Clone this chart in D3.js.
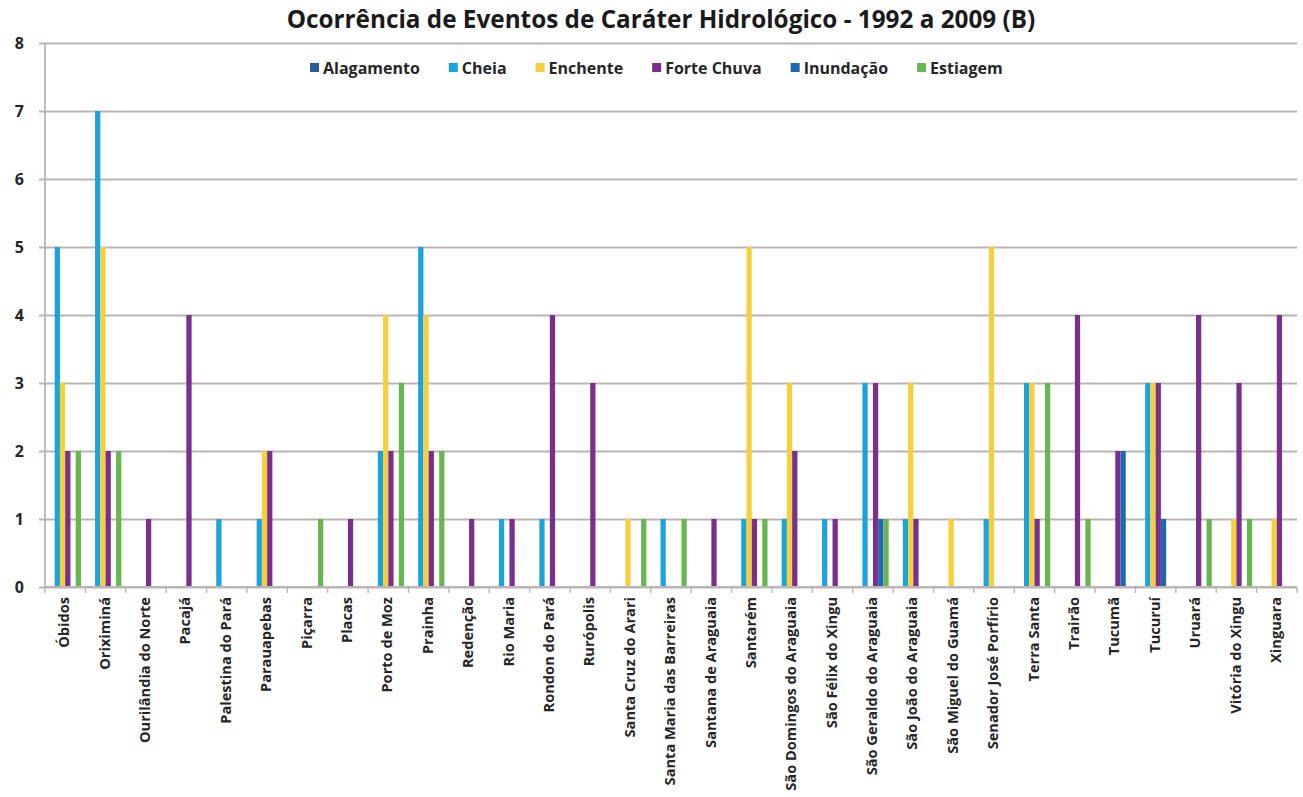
<!DOCTYPE html>
<html>
<head>
<meta charset="utf-8">
<script src="https://cdn.jsdelivr.net/npm/d3@7"></script>
<style>
  html, body { margin: 0; padding: 0; background: #ffffff; }
  svg { display: block; }
  svg text { font-family: "Open Sans", "DejaVu Sans", sans-serif; font-weight: 700; }
</style>
</head>
<body>
<svg id="chart" width="1303" height="797"></svg>
<script>
// Municípios
const categories = [
  "Óbidos", "Oriximiná", "Ourilândia do Norte", "Pacajá", "Palestina do Pará",
  "Parauapebas", "Piçarra", "Placas", "Porto de Moz", "Prainha", "Redenção",
  "Rio Maria", "Rondon do Pará", "Rurópolis", "Santa Cruz do Arari",
  "Santa Maria das Barreiras", "Santana de Araguaia", "Santarém",
  "São Domingos do Araguaia", "São Félix do Xingu", "São Geraldo do Araguaia",
  "São João do Araguaia", "São Miguel do Guamá", "Senador José Porfírio",
  "Terra Santa", "Trairão", "Tucumã", "Tucuruí", "Uruará", "Vitória do Xingu",
  "Xinguara"
];

// Número de ocorrências por tipo de evento
const alagamento = [0,0,0,0,0,0,0,0,0,0,0,0,0,0,0,0,0,0,0,0,0,0,0,0,0,0,0,0,0,0,0];
const cheia      = [5,7,0,0,1,1,0,0,2,5,0,1,1,0,0,1,0,1,1,1,3,1,0,1,3,0,0,3,0,0,0];
const enchente   = [3,5,0,0,0,2,0,0,4,4,0,0,0,0,1,0,0,5,3,0,0,3,1,5,3,0,0,3,0,1,1];
const forteChuva = [2,2,1,4,0,2,0,1,2,2,1,1,4,3,0,0,1,1,2,1,3,1,0,0,1,4,2,3,4,3,4];
const inundacao  = [0,0,0,0,0,0,0,0,0,0,0,0,0,0,0,0,0,0,0,0,1,0,0,0,0,0,2,1,0,0,0];
const estiagem   = [2,2,0,0,0,0,1,0,3,2,0,0,0,0,1,1,0,1,0,0,1,0,0,0,3,1,0,0,1,1,0];

const seriesNames  = ["Alagamento", "Cheia", "Enchente", "Forte Chuva", "Inundação", "Estiagem"];
const seriesValues = [alagamento, cheia, enchente, forteChuva, inundacao, estiagem];
const seriesColors = ["#2a5d97", "#1ba3dc", "#f6d03a", "#7a2f8c", "#1f67b2", "#68b650"];
const yTicks = [0, 1, 2, 3, 4, 5, 6, 7, 8];

const title = "Ocorrência de Eventos de Caráter Hidrológico - 1992 a 2009 (B)";

const FONT = '"Open Sans", "DejaVu Sans", sans-serif';
const svg = d3.select("#chart");
const plot = { left: 45, right: 1297, top: 43, bottom: 587 };

const x0 = d3.scaleBand()
  .domain(categories)
  .range([plot.left, plot.right])
  .paddingInner(0.22)
  .paddingOuter(0.11);

const x1 = d3.scaleBand()
  .domain(seriesNames)
  .range([0, x0.bandwidth()]);

const y = d3.scaleLinear()
  .domain([0, 8])
  .range([plot.bottom, plot.top]);

// Linhas de grade e rótulos do eixo vertical
const yAxis = d3.axisLeft(y)
  .tickValues(yTicks)
  .tickSize(-(plot.right - plot.left))
  .tickSizeOuter(0)
  .tickPadding(21)
  .tickFormat(d3.format("d"));

const gy = svg.append("g")
  .attr("transform", `translate(${plot.left},0)`)
  .call(yAxis)
  .attr("font-family", FONT)
  .attr("font-size", 16);
gy.select(".domain").remove();
gy.selectAll(".tick line")
  .attr("x1", -6)
  .attr("stroke", "#bdb5b5")
  .attr("stroke-width", 1.8);
gy.selectAll(".tick text")
  .attr("fill", "#262626")
  .style("font-family", FONT)
  .style("font-size", "16px")
  .style("font-weight", 700);

// Linha do eixo vertical
svg.append("line")
  .attr("x1", plot.left).attr("x2", plot.left)
  .attr("y1", plot.top).attr("y2", plot.bottom)
  .attr("stroke", "#bdb5b5")
  .attr("stroke-width", 1.8);

// Barras agrupadas
const groups = svg.append("g")
  .selectAll("g")
  .data(categories)
  .join("g")
  .attr("transform", d => `translate(${x0(d)},0)`);

groups.selectAll("rect")
  .data((d, i) => seriesNames.map((s, k) => ({ s, k, v: seriesValues[k][i] })))
  .join("rect")
  .filter(d => d.v > 0)
  .attr("x", d => x1(d.s))
  .attr("width", x1.bandwidth())
  .attr("y", d => y(d.v))
  .attr("height", d => y(0) - y(d.v))
  .attr("fill", d => seriesColors[d.k]);

// Eixo horizontal com marcas entre categorias
const step = x0.step();
const gx = svg.append("g")
  .attr("transform", `translate(0,${plot.bottom})`);
gx.append("line")
  .attr("x1", plot.left).attr("x2", plot.right)
  .attr("stroke", "#bdb5b5")
  .attr("stroke-width", 1.8);
const boundaries = categories.map(c => x0(c) - step * x0.paddingInner() / 2)
  .concat([plot.right]);
gx.selectAll("line.tk")
  .data(boundaries)
  .join("line")
  .attr("class", "tk")
  .attr("x1", d => d).attr("x2", d => d)
  .attr("y1", 0).attr("y2", 6)
  .attr("stroke", "#bdb5b5")
  .attr("stroke-width", 1.4);

gx.selectAll("text")
  .data(categories)
  .join("text")
  .attr("transform", d => `translate(${x0(d) + x0.bandwidth() / 2 - 1},10) rotate(-90)`)
  .attr("dy", "0.35em")
  .attr("text-anchor", "end")
  .attr("fill", "#262626")
  .style("font-family", FONT)
  .style("font-size", "14.6px")
  .style("font-weight", 700)
  .text(d => d);

// Título
svg.append("text")
  .attr("x", 661)
  .attr("y", 28)
  .attr("text-anchor", "middle")
  .attr("fill", "#1a1a1a")
  .style("font-family", FONT)
  .style("font-size", "24.3px")
  .style("font-weight", 700)
  .text(title);

// Legenda
const legend = svg.append("g").attr("transform", "translate(0,68)");
let lx = 310;
seriesNames.forEach((name, k) => {
  legend.append("rect")
    .attr("x", lx).attr("y", -5)
    .attr("width", 9).attr("height", 9)
    .attr("fill", seriesColors[k]);
  const t = legend.append("text")
    .attr("x", lx + 13)
    .attr("y", 0)
    .attr("dy", "0.35em")
    .attr("fill", "#262626")
    .style("font-family", FONT)
    .style("font-size", "16px")
    .style("font-weight", 700)
    .text(name);
  lx += 13 + t.node().getComputedTextLength() + 29;
});
</script>
</body>
</html>
